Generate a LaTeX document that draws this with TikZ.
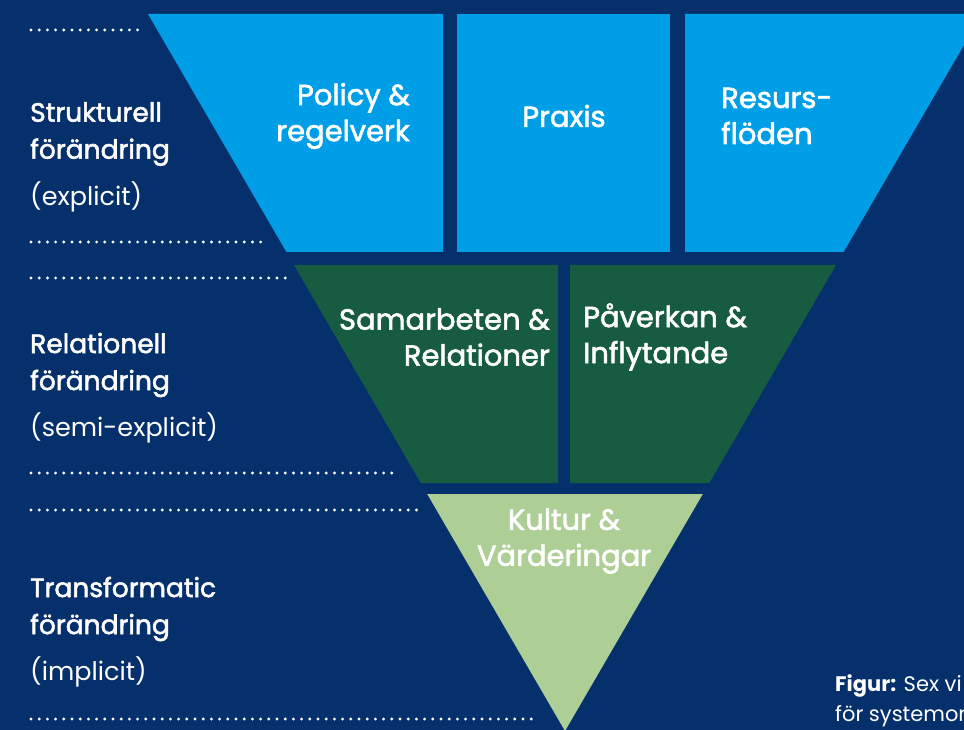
\documentclass[tikz,border=0pt]{standalone}
\usepackage{fontspec}
\setmainfont{Poppins}
\newfontfamily\medfont{Poppins}[FakeBold=2]
\usetikzlibrary{positioning}

\definecolor{navy}{HTML}{06306B}
\definecolor{skyblue}{HTML}{009EE6}
\definecolor{forest}{HTML}{175C40}
\definecolor{sage}{HTML}{ADCF95}

\begin{document}
\begin{tikzpicture}[x=1pt, y=-1pt,
    layerlabel/.style={anchor=west, align=left, text=white, font=\medfont\fontsize{26.5}{37}\selectfont, inner sep=0pt},
    kindlabel/.style={text=white, font=\fontsize{25.5}{37}\selectfont, inner sep=0pt},
    fieldlabel/.style={text=white, font=\medfont\fontsize{29}{36}\selectfont, inner sep=0pt},
    dotline/.style={white, line width=3.2pt, line cap=round, dash pattern=on 0pt off 8.2pt}]
        % Frame
        \clip (0,0) rectangle (964,730);
        \fill [navy] (0,0) rectangle (964,730);

        % Structural layer
        \fill [skyblue] (148,14) -- (443,14) -- (443,252) -- (286.4,252) -- cycle;
        \fill [skyblue] (457,14) rectangle (670,252);
        \fill [skyblue] (685,14) -- (982,14) -- (843.6,252) -- (685,252) -- cycle;
        % Relational layer
        \fill [forest] (294,265) -- (558,265) -- (558,483) -- (420.8,483) -- cycle;
        \fill [forest] (570,265) -- (836,265) -- (709.2,483) -- (570,483) -- cycle;
        % Transformative layer
        \fill [sage] (427.2,494) -- (702.8,494) -- (565,731) -- cycle;

        % Dotted separators
        \draw [dotline] (31,30) -- (143,30);
        \draw [dotline] (31,242) -- (268,242);
        \draw [dotline] (31,278) -- (287,278);
        \draw [dotline] (31,473) -- (398,473);
        \draw [dotline] (31,510) -- (418,510);
        \draw [dotline] (31,719) -- (537,719);

        % Nodes
        \node [fieldlabel, anchor=east, align=right] (policy) at (410,116) {Policy \&\\regelverk};
        \node [fieldlabel] (praxis) at (564,116) {Praxis};
        \node [fieldlabel, anchor=west, align=left] (resurs) at (721,116) {Resurs-\\flöden};
        \node [fieldlabel, anchor=east, align=right] (samarbete) at (550,337) {Samarbeten \&\\Relationer};
        \node [fieldlabel, anchor=west, align=left] (paverkan) at (583,337) {Påverkan \&\\Inflytande};
        \node [fieldlabel, align=center] (kultur) at (564,541) {Kultur \&\\Värderingar};

        % Layer labels
        \node [layerlabel] (strukturell) at (30,134) {Strukturell\\förändring};
        \node [kindlabel, below=15pt of strukturell.south west, anchor=north west] (explicit) {(explicit)};
        \node [layerlabel] (relationell) at (30,365) {Relationell\\förändring};
        \node [kindlabel, below=15pt of relationell.south west, anchor=north west] (semiexplicit) {(semi-explicit)};
        \node [layerlabel] (transformatic) at (30,609) {Transformatic\\förändring};
        \node [kindlabel, below=15pt of transformatic.south west, anchor=north west] (implicit) {(implicit)};

        % Caption
        \node [anchor=west, align=left, text=white, font=\fontsize{21}{30}\selectfont, inner sep=0pt] (figur) at (835,701) {\textbf{Figur:} Sex vi\\för systemom};
    \end{tikzpicture}
\end{document}
